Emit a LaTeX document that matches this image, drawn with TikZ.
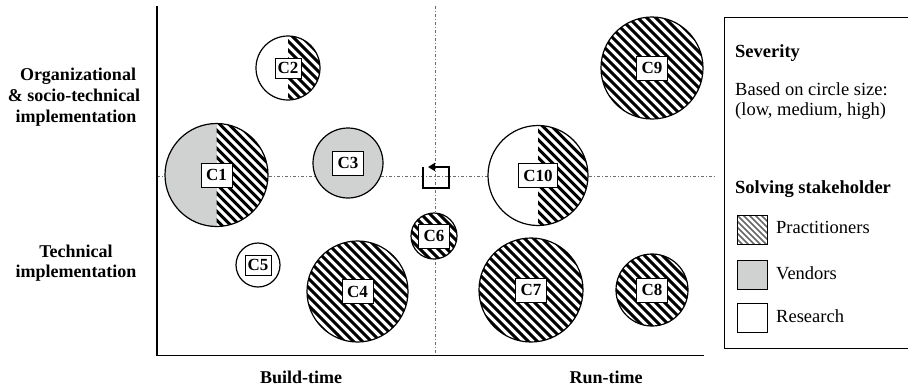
\documentclass[tikz,border=0pt]{standalone}
\usepackage{fontspec}
\setmainfont{Liberation Serif}
\usetikzlibrary{arrows.meta}
\definecolor{vgray}{RGB}{208,209,209}
\definecolor{axgray}{RGB}{110,110,110}
\newcommand{\hatchlines}{\foreach \k in {-15,...,15}{\draw[line width=3.1pt] ({\k*9-60},-60) -- ({\k*9+60},60);}}
\begin{document}
\begin{tikzpicture}[x=1pt,y=-1pt,
  bub/.style={circle, draw=black, fill=white, line width=1.2pt, minimum size=#1, inner sep=0pt},
  hatchall/.style={path picture={\begin{scope}[shift={(path picture bounding box.center)}]\hatchlines\end{scope}}},
  hatchright/.style={path picture={\begin{scope}[shift={(path picture bounding box.center)}]\clip (0,-60) rectangle (60,60);\hatchlines\end{scope}}},
  grayhatch/.style={path picture={\begin{scope}[shift={(path picture bounding box.center)}]\fill[vgray] (-60,-60) rectangle (0,60);\clip (0,-60) rectangle (60,60);\hatchlines\end{scope}}},
  lbl/.style={draw=black, fill=white, line width=0.7pt, inner xsep=5pt, inner ysep=0pt, minimum height=24pt, font=\bfseries\fontsize{17}{17}\selectfont},
  lblsmall/.style={lbl, inner xsep=2.5pt, minimum height=20pt},
  axlabel/.style={font=\bfseries\fontsize{18}{18}\selectfont, anchor=base},
  legtext/.style={font=\fontsize{18.5}{18.5}\selectfont, anchor=base west, inner sep=0pt},
  leghead/.style={font=\bfseries\fontsize{18.5}{18.5}\selectfont, anchor=base west, inner sep=0pt},
  swatch/.style={draw=black, line width=0.8pt, minimum width=30pt, minimum height=29pt, inner sep=0pt},
  guide/.style={draw=axgray, line width=0.7pt, dash pattern=on 3pt off 2pt on 1pt off 2pt},
]
\useasboundingbox (0,0) rectangle (908,389);

% guide lines
\coordinate (hl) at (157,176);
\coordinate (hr) at (715,176);
\coordinate (vt) at (435,6);
\coordinate (vb) at (435,355);
\draw[guide] (hl) -- (hr);
\draw[guide] (vt) -- (vb);

% axes
\coordinate (ytop) at (157,6);
\coordinate (xend) at (704,355.7);
\draw[line width=1.3pt] (ytop) |- (xend);

% circles
\node[bub=103pt, grayhatch] (c1) at (216.5,175) {};
\node[bub=64pt, hatchright] (c2) at (288,68) {};
\node[bub=70pt, fill=vgray] (c3) at (348,163) {};
\node[bub=101pt, hatchall] (c4) at (357.5,291.5) {};
\node[bub=44pt] (c5) at (258,265) {};
\node[bub=46pt, hatchall] (c6) at (434,236) {};
\node[bub=104pt, hatchall] (c7) at (531,290) {};
\node[bub=72pt, hatchall] (c8) at (652,290) {};
\node[bub=102pt, hatchall] (c9) at (652,68) {};
\node[bub=100pt, hatchright] (c10) at (538,175.5) {};

% labels
\node[lbl] (l1) at (c1) {C1};
\node[lblsmall] (l2) at (c2) {C2};
\node[lbl] (l3) at (c3) {C3};
\node[lbl] (l4) at (c4) {C4};
\node[lblsmall] (l5) at (c5) {C5};
\node[lbl] (l6) at (c6) {C6};
\node[lbl] (l7) at (c7) {C7};
\node[lbl] (l8) at (c8) {C8};
\node[lbl] (l9) at (c9) {C9};
\node[lbl] (l10) at (c10) {C10};

% loop arrow
\coordinate (la) at (423,166.5);
\coordinate (lb) at (423,188);
\coordinate (lc) at (449,188);
\coordinate (ld) at (449,167);
\coordinate (le) at (428,167);
\draw[line width=2.3pt, -{Triangle[length=7pt,width=8pt]}] (la) -- (lb) -- (lc) -- (ld) -- (le);

% axis labels
\node[axlabel] (o1) at (78,80) {Organizational};
\node[axlabel] (o2) at (74,101) {\& socio-technical};
\node[axlabel] (o3) at (76,122) {implementation};
\node[axlabel] (t1) at (76,257) {Technical};
\node[axlabel] (t2) at (76,277) {implementation};
\node[axlabel] (bt) at (301,383) {Build-time};
\node[axlabel] (rt) at (606,383) {Run-time};

% legend
\node[draw=black, line width=0.8pt, anchor=north west, minimum width=200pt, minimum height=331pt, inner sep=0pt] (legend) at (724,17) {};
\node[leghead] (sev) at (735,57) {Severity};
\node[legtext] (bas1) at (735,95) {Based on circle size:};
\node[legtext] (bas2) at (735,115) {(low, medium, high)};
\node[leghead] (sol) at (735,193) {Solving stakeholder};
\node[swatch, path picture={\foreach \k in {-6,...,6}{\draw[draw=black!60, line width=1.6pt] ([shift={({\k*6-20},-20)}]path picture bounding box.center) -- ([shift={({\k*6+20},20)}]path picture bounding box.center);}}] (sp) at (752,230) {};
\node[swatch, fill=vgray] (sv) at (752,274.5) {};
\node[swatch] (sr) at (752,318) {};
\node[legtext] (tp) at (776,233) {Practitioners};
\node[legtext] (tv) at (776,279) {Vendors};
\node[legtext] (tr) at (776,322) {Research};
\end{tikzpicture}
\end{document}
